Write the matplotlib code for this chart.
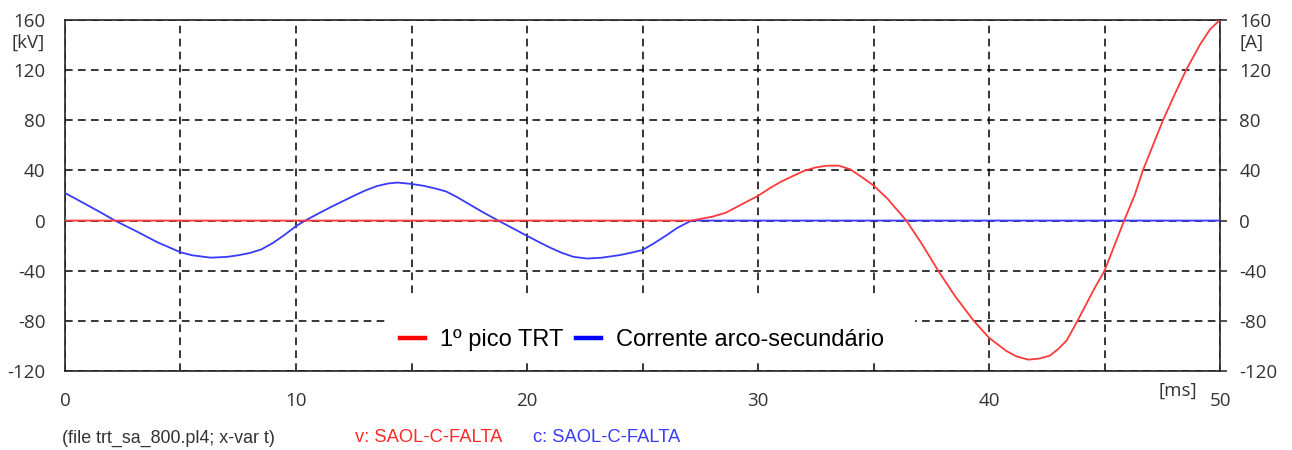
import matplotlib
matplotlib.use("Agg")
import matplotlib.pyplot as plt
from matplotlib.patches import Rectangle
from matplotlib.lines import Line2D
import matplotlib.transforms as mtransforms

plt.rcParams["axes.unicode_minus"] = False

# ---- data ----
t_current = [0, 0.5, 1, 1.5, 2.16, 3, 4, 5, 5.5, 6.3, 7, 7.5, 8, 8.5, 9, 9.5, 10,
             10.4, 11, 11.5, 12, 12.5, 13, 13.5, 14, 14.4, 15, 15.5, 16, 16.5, 17,
             17.5, 18, 18.75, 19.5, 20, 20.5, 21, 21.5, 22, 22.6, 23.2, 24, 24.5,
             25, 25.5, 26, 26.5, 27.12, 50]
current = [22, 17, 12, 6.9, 0, -7.7, -17.3, -25.3, -27.7, -29.6, -29, -27.7, -25.9,
           -23, -17.9, -11.5, -4.5, 0, 5.9, 10.7, 15.2, 19.7, 24, 27.5, 29.6, 30.3,
           29.2, 27.8, 25.7, 23.2, 18.4, 13, 7.6, 0, -7.3, -12.2, -17, -21.6, -25.7,
           -28.9, -30.3, -29.7, -27.6, -25.7, -23.5, -18.1, -12.2, -5.9, 0, 0]

t_voltage = [0, 27.12, 28, 28.6, 29.3, 30, 30.5, 31, 31.5, 32, 32.5, 33, 33.5, 34,
             34.5, 35, 35.6, 36.42, 37.1, 37.8, 38.54, 39.34, 40, 40.73, 41.2, 41.71,
             42.2, 42.63, 43, 43.36, 43.83, 44.53, 45, 45.48, 45.85, 46.3, 46.66,
             47.13, 47.53, 48.02, 48.53, 49.14, 49.57, 50]
voltage = [0, 0, 3, 6.2, 13, 19.7, 25.7, 31.1, 35.4, 39.7, 42.4, 43.8, 43.8, 40.8,
           34.6, 28, 17.5, 0, -18.9, -40, -60.6, -80, -93.5, -103.8, -108.5, -111,
           -110, -107.8, -102.4, -95.7, -80, -55.3, -40, -17.5, 0, 20, 40,
           61.6, 80, 100, 120, 140.6, 152.6, 160]

x_major = [0, 10, 20, 30, 40, 50]
x_minor = [5, 15, 25, 35, 45]
y_ticks = [-120, -80, -40, 0, 40, 80, 120, 160]

legend_labels = ["1º pico TRT", "Corrente arco-secundário"]
footer_file = "(file trt_sa_800.pl4; x-var t)"
footer_v = "v: SAOL-C-FALTA"
footer_c = "c: SAOL-C-FALTA"

# ---- styling ----
tick_font = "Open Sans"
tick_size = 13.5
tick_color = "#333333"
red = "#ff3a3a"
blue = "#3a3aff"

fig = plt.figure(figsize=(12.92, 4.5), dpi=100)
ax = fig.add_axes([0.0503, 0.1756, 0.894, 0.78])
ax.set_xlim(0, 50)
ax.set_ylim(-120, 160)

ax.set_xticks(x_major)
ax.set_xticks(x_minor, minor=True)
ax.set_yticks(y_ticks)
ax.set_axisbelow(True)
ax.grid(True, which="both", color="black",
        linestyle=(0, (5, 3.5)), linewidth=1.1)

ax.tick_params(axis="x", which="both", length=0, pad=15,
               labelsize=tick_size, labelcolor=tick_color)
ax.tick_params(axis="y", which="both", length=0, pad=14,
               labelsize=tick_size, labelcolor=tick_color)
for lab in ax.get_xticklabels() + ax.get_yticklabels():
    lab.set_fontfamily(tick_font)

for sp in ax.spines.values():
    sp.set_color("#222222")
    sp.set_linewidth(1.2)

ax2 = ax.twinx()
ax2.set_ylim(-120, 160)
ax2.set_yticks(y_ticks)
ax2.tick_params(axis="y", length=5, width=1.1, color="#222222", pad=9,
                labelsize=tick_size, labelcolor=tick_color)
for lab in ax2.get_yticklabels():
    lab.set_fontfamily(tick_font)
for sp in ax2.spines.values():
    sp.set_visible(False)

# curves
ax.plot(t_current, current, color=blue, linewidth=1.3, zorder=3)
ax.plot(t_voltage, voltage, color=red, linewidth=1.3, zorder=3)

# white area behind the legend
ax.add_patch(Rectangle((0.278, 0.037), 0.458, 0.18, transform=ax.transAxes,
                       facecolor="white", edgecolor="none", zorder=1.5))

handles = [Line2D([], [], color="#ff0000", linewidth=3.2),
           Line2D([], [], color="#0000ff", linewidth=3.2)]
leg = ax.legend(handles, legend_labels, loc="center",
                bbox_to_anchor=(0.4996, 0.088), ncol=2, frameon=False,
                prop={"family": "Liberation Sans", "size": 17},
                handlelength=1.05, handletextpad=0.64, columnspacing=0.55)
leg.set_zorder(5)

# unit labels
trans_l = mtransforms.blended_transform_factory(fig.transFigure, ax.transData)
fig.text(0.0348, 142.0, "[kV]", transform=trans_l, ha="right", va="center",
         fontsize=tick_size, color=tick_color, family=tick_font)
fig.text(0.9595, 142.0, "[A]", transform=trans_l, ha="left", va="center",
         fontsize=tick_size, color=tick_color, family=tick_font)
fig.text(1178 / 1292, (450 - 391) / 450, "[ms]", ha="center", va="center",
         fontsize=tick_size, color=tick_color, family=tick_font)

# footer
fy = (450 - 438) / 450
fig.text(62 / 1292, fy, footer_file, ha="left", va="center", fontsize=12.9,
         color="#333333", family="Liberation Sans")
fig.text(355 / 1292, fy, footer_v, ha="left", va="center", fontsize=13.2,
         color="#ff2a2a", family="Liberation Sans")
fig.text(533 / 1292, fy, footer_c, ha="left", va="center", fontsize=13.2,
         color="#3a3aff", family="Liberation Sans")

fig.savefig("out.png", dpi=100)
